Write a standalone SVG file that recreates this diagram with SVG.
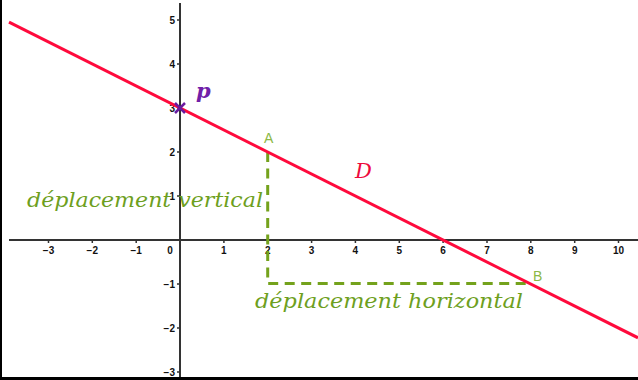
<svg xmlns="http://www.w3.org/2000/svg" width="638" height="380" viewBox="0 0 638 380">
<style>
.ax{stroke:#333;stroke-width:2;fill:none}
.tk{stroke:#333;stroke-width:1.5}
.tl{font-family:"Liberation Sans",Arial,sans-serif;font-weight:bold;font-size:10px;fill:#111}
.tx{text-anchor:middle}
.ty{text-anchor:end}
.dash{stroke:#74a21c;stroke-width:3;fill:none;stroke-dasharray:10 6.5}
.lbl{font-family:"Liberation Sans",Arial,sans-serif;font-size:14px;fill:#8cb845}
.math{font-family:"DejaVu Serif","Liberation Serif",serif;font-style:italic}
.gtxt{font-family:"DejaVu Serif","Liberation Serif",serif;font-style:italic;font-size:20px;fill:#6e9f1e}
</style>
<rect width="638" height="380" fill="#fff"/>
<rect x="0" y="0" width="2" height="380" fill="#000"/>
<rect x="0" y="377" width="638" height="3" fill="#000"/>
<g id="axes">
<line class="ax" x1="9" y1="240" x2="638" y2="240"/>
<line class="ax" x1="180" y1="3" x2="180" y2="377"/>
<g id="xticks">
<path class="tk" d="M48.5 240v3M92.3 240v3M136.2 240v3M223.9 240v3M267.7 240v3M311.6 240v3M355.4 240v3M399.3 240v3M443.1 240v3M487 240v3M530.8 240v3M574.7 240v3M618.5 240v3"/>
<text class="tl tx" x="48.5" y="254">−3</text>
<text class="tl tx" x="92.3" y="254">−2</text>
<text class="tl tx" x="136.2" y="254">−1</text>
<text class="tl tx" x="170" y="254">0</text>
<text class="tl tx" x="223.9" y="254">1</text>
<text class="tl tx" x="267.7" y="254">2</text>
<text class="tl tx" x="311.6" y="254">3</text>
<text class="tl tx" x="355.4" y="254">4</text>
<text class="tl tx" x="399.3" y="254">5</text>
<text class="tl tx" x="443.1" y="254">6</text>
<text class="tl tx" x="487" y="254">7</text>
<text class="tl tx" x="530.8" y="254">8</text>
<text class="tl tx" x="574.7" y="254">9</text>
<text class="tl tx" x="618.5" y="254">10</text>
</g>
<g id="yticks">
<path class="tk" d="M180 20h-3M180 64h-3M180 108h-3M180 152h-3M180 196h-3M180 284h-3M180 328h-3M180 372h-3"/>
<text class="tl ty" x="175" y="24">5</text>
<text class="tl ty" x="175" y="68">4</text>
<text class="tl ty" x="175" y="112">3</text>
<text class="tl ty" x="175" y="156">2</text>
<text class="tl ty" x="175" y="200">1</text>
<text class="tl ty" x="175" y="288">−1</text>
<text class="tl ty" x="175" y="332">−2</text>
<text class="tl ty" x="175" y="376">−3</text>
</g>
</g>
<g id="connectors">
<path id="deplacements" class="dash" d="M267.7 152V283.5H531"/>
</g>
<g id="droite-D">
<line x1="9" y1="22.2" x2="638" y2="337.8" stroke="#ff0a3c" stroke-width="3"/>
<text class="math" x="355" y="178" font-size="21" fill="#ee0a3c">D</text>
</g>
<g id="point-p">
<path d="M175 103l10 10M185 103l-10 10" stroke="#6a1aa0" stroke-width="2.5"/>
<text class="math" x="196" y="98" font-size="21" font-weight="bold" fill="#7020a8">p</text>
</g>
<g id="point-A">
<text class="lbl" x="264" y="143">A</text>
</g>
<g id="point-B">
<text class="lbl" x="533" y="281">B</text>
</g>
<g id="label-vertical">
<text class="gtxt" x="27" y="207" textLength="236" lengthAdjust="spacingAndGlyphs">déplacement vertical</text>
</g>
<g id="label-horizontal">
<text class="gtxt" x="255" y="307.5" textLength="268" lengthAdjust="spacingAndGlyphs">déplacement horizontal</text>
</g>
</svg>
